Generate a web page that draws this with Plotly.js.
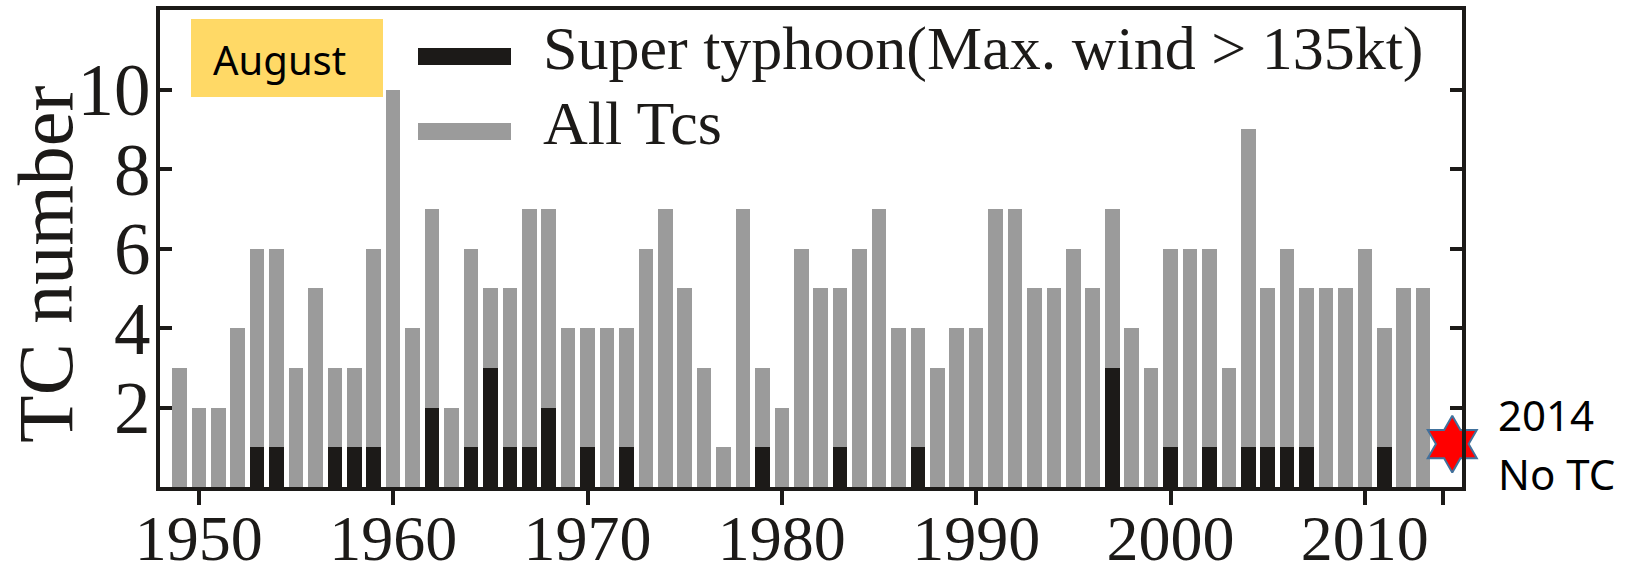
<!DOCTYPE html>
<html>
<head>
<meta charset="utf-8">
<script src="https://cdn.plot.ly/plotly-3.0.1.min.js"></script>
<style>html,body{margin:0;padding:0;background:#fff;}#chart{width:1629px;height:580px;}</style>
</head>
<body>
<div id="chart"></div>
<script>
// ---- data ----
var years = [1949,1950,1951,1952,1953,1954,1955,1956,1957,1958,1959,1960,1961,1962,1963,1964,1965,1966,1967,1968,1969,
             1970,1971,1972,1973,1974,1975,1976,1977,1978,1979,1980,1981,1982,1983,1984,1985,1986,1987,1988,1989,
             1990,1991,1992,1993,1994,1995,1996,1997,1998,1999,2000,2001,2002,2003,2004,2005,2006,2007,2008,2009,
             2010,2011,2012,2013];
var allTcs = [3,2,2,4,6,6,3,5,3,3,6,10,4,7,2,6,5,5,7,7,4,
              4,4,4,6,7,5,3,1,7,3,2,6,5,5,6,7,4,4,3,4,
              4,7,7,5,5,6,5,7,4,3,6,6,6,3,9,5,6,5,5,5,
              6,4,5,5];
var superTy = [0,0,0,0,1,1,0,0,1,1,1,0,0,2,0,1,3,1,1,2,0,
               1,0,1,0,0,0,0,0,0,1,0,0,0,1,0,0,0,1,0,0,
               0,0,0,0,0,0,0,3,0,0,1,0,1,0,1,1,1,1,0,0,
               0,1,0,0];
var tickYears = [1950,1960,1970,1980,1990,2000,2010,2014];
var tickLabels = ['1950','1960','1970','1980','1990','2000','2010',''];
var noTcX = [2014.5];
var noTcY = [1.08];
var seriesNames = ['Super typhoon(Max. wind > 135kt)', 'All Tcs'];

var serif = 'Liberation Serif, Times New Roman, serif';
var sans = 'Noto Sans, Open Sans, sans-serif';

var traces = [
  {type:'bar', x: years, y: allTcs, name: seriesNames[1], width: 0.75,
   marker:{color:'#9b9b9b', line:{width:0}}, showlegend:false, hoverinfo:'x+y'},
  {type:'bar', x: years, y: superTy, name: seriesNames[0], width: 0.75,
   marker:{color:'#1c1a18', line:{width:0}}, showlegend:false, hoverinfo:'x+y'},
  {type:'scatter', mode:'markers', x: noTcX, y: noTcY, name:'2014 No TC', cliponaxis:false,
   marker:{symbol:'hexagram', size:43, color:'#ff0000', line:{color:'#41719c', width:2}},
   showlegend:false, hoverinfo:'skip'}
];

var px2x = function(px){ return (px-160)/1302; };
var px2y = function(py){ return (487-py)/477; };

var layout = {
  width:1629, height:580,
  margin:{l:160, r:167, t:10, b:93, pad:0},
  paper_bgcolor:'#ffffff', plot_bgcolor:'#ffffff',
  barmode:'overlay',
  bargap:0,
  showlegend:false,
  xaxis:{range:[1948,2015], tickvals: tickYears, ticktext: tickLabels,
    ticks:'outside', ticklen:14, tickwidth:4, tickcolor:'#1c1a18',
    ticklabelstandoff:-22,
    showline:true, linewidth:4, linecolor:'#1c1a18', mirror:true,
    showgrid:false, zeroline:false,
    tickfont:{family:serif, size:64, color:'#1c1a18'}},
  yaxis:{range:[0,12], tickvals:[2,4,6,8,10], ticktext:['2','4','6','8','10'],
    ticks:'inside', ticklen:12, tickwidth:4, tickcolor:'#1c1a18',
    ticklabelstandoff:-9,
    showline:true, linewidth:4, linecolor:'#1c1a18', mirror:'ticks',
    showgrid:false, zeroline:false,
    tickfont:{family:serif, size:73, color:'#1c1a18'}},
  shapes:[
    {type:'rect', xref:'paper', yref:'paper', x0:px2x(191), x1:px2x(383), y0:px2y(97), y1:px2y(19),
     fillcolor:'#ffd966', line:{width:0}, layer:'above'},
    {type:'rect', xref:'paper', yref:'paper', x0:px2x(418), x1:px2x(511), y0:px2y(65), y1:px2y(48),
     fillcolor:'#1c1a18', line:{width:0}},
    {type:'rect', xref:'paper', yref:'paper', x0:px2x(418), x1:px2x(511), y0:px2y(140), y1:px2y(123),
     fillcolor:'#9b9b9b', line:{width:0}}
  ],
  annotations:[
    {xref:'paper', yref:'paper', x:px2x(45), y:px2y(265), text:'TC number', textangle:-90,
     showarrow:false, xanchor:'center', yanchor:'middle', borderpad:0,
     font:{family:serif, size:78, color:'#1c1a18'}},
    {xref:'paper', yref:'paper', x:px2x(279), y:px2y(59), text:'August', showarrow:false,
     xanchor:'center', yanchor:'middle', font:{family:sans, size:40, color:'#000000'}},
    {xref:'paper', yref:'paper', x:px2x(541), y:px2y(49), text:seriesNames[0], showarrow:false,
     xanchor:'left', yanchor:'middle', font:{family:serif, size:62, color:'#1c1a18'}},
    {xref:'paper', yref:'paper', x:px2x(541), y:px2y(123), text:seriesNames[1], showarrow:false,
     xanchor:'left', yanchor:'middle', font:{family:serif, size:62, color:'#1c1a18'}},
    {xref:'paper', yref:'paper', x:px2x(1496), y:px2y(414), text:'2014', showarrow:false,
     xanchor:'left', yanchor:'middle', font:{family:sans, size:42, color:'#000000'}},
    {xref:'paper', yref:'paper', x:px2x(1496), y:px2y(473), text:'No TC', showarrow:false,
     xanchor:'left', yanchor:'middle', font:{family:sans, size:42, color:'#000000'}}
  ]
};

Plotly.newPlot('chart', traces, layout, {displayModeBar:false, staticPlot:true});
</script>
</body>
</html>
